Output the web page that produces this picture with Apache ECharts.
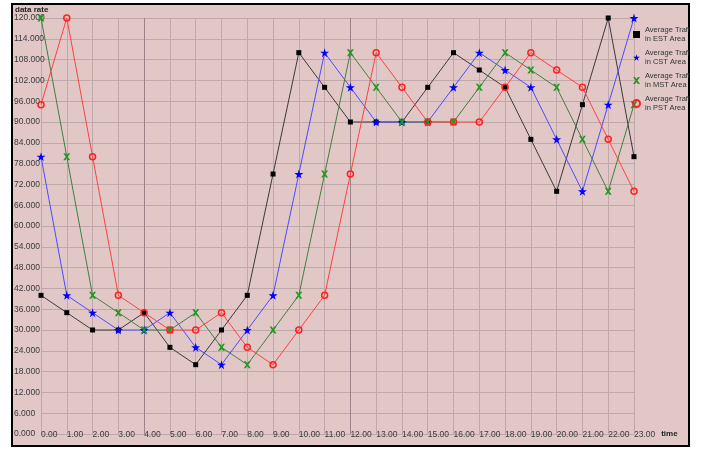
<!DOCTYPE html>
<html>
<head>
<meta charset="utf-8">
<script src="https://cdn.jsdelivr.net/npm/echarts@6/dist/echarts.min.js"></script>
<style>
html,body{margin:0;padding:0;background:#fff;}
#c{width:701px;height:450px;}
</style>
</head>
<body>
<div id="c"></div>
<script>
var hours = ['0.00','1.00','2.00','3.00','4.00','5.00','6.00','7.00','8.00','9.00','10.00','11.00','12.00','13.00','14.00','15.00','16.00','17.00','18.00','19.00','20.00','21.00','22.00','23.00'];
var estValues = [40,35,30,30,35,25,20,30,40,75,110,100,90,90,90,100,110,105,100,85,70,95,120,80];
var cstValues = [80,40,35,30,30,35,25,20,30,40,75,110,100,90,90,90,100,110,105,100,85,70,95,120];
var mstValues = [120,80,40,35,30,30,35,25,20,30,40,75,110,100,90,90,90,100,110,105,100,85,70,95];
var pstValues = [95,120,80,40,35,30,30,35,25,20,30,40,75,110,100,90,90,90,100,110,105,100,85,70];
var seriesNames = ['Average Traffic\nin EST Area','Average Traffic\nin CST Area','Average Traffic\nin MST Area','Average Traffic\nin PST Area'];

var starPath = 'path://M50,0L61,35L98,35L68,57L79,91L50,70L21,91L32,57L2,35L39,35Z';
var xPath = 'path://M0,0L30,0L50,30L70,0L100,0L65,50L100,100L70,100L50,70L30,100L0,100L35,50Z';

var gridColor = '#bfa7aa';
var xSplitColors = hours.map(function(h, i){ return (i === 4 || i === 12) ? '#9a8488' : gridColor; });

var chart = echarts.init(document.getElementById('c'));
function mk(name, data, lineColor, itemStyle, symbol, size) {
  return {
    name: name, type: 'line', data: data,
    symbol: symbol, symbolSize: size,
    lineStyle: {color: lineColor, width: 1},
    itemStyle: itemStyle,
    animation: false
  };
}
chart.setOption({
  backgroundColor: '#ffffff',
  animation: false,
  graphic: [{
    type: 'rect', z: -100, silent: true,
    shape: {x: 12, y: 4, width: 677, height: 442},
    style: {fill: '#e2c7c7', stroke: '#000', lineWidth: 2}
  }],
  title: {
    text: 'data rate', left: 15, top: 6, padding: 0,
    textStyle: {fontFamily: 'Liberation Sans', fontSize: 8, fontWeight: 'bold', color: '#222'}
  },
  legend: {
    orient: 'vertical', left: 632, top: 21, padding: 0,
    itemWidth: 7, itemHeight: 7, itemGap: -4,
    data: [
      {name: seriesNames[0], icon: 'rect'},
      {name: seriesNames[1], icon: starPath},
      {name: seriesNames[2], icon: xPath},
      {name: seriesNames[3], icon: 'circle'}
    ],
    textStyle: {fontFamily: 'Liberation Sans', fontSize: 7.5, lineHeight: 9, color: '#333',
      width: 47, overflow: 'truncate', ellipsis: '', padding: [9, 0, 0, 0]}
  },
  grid: {left: 41, right: 67, top: 18, bottom: 16},
  xAxis: {
    type: 'category', data: hours, boundaryGap: false,
    name: 'time', nameLocation: 'end', nameGap: 27,
    nameTextStyle: {fontFamily: 'Liberation Sans', fontSize: 8, fontWeight: 'bold', color: '#222', verticalAlign: 'middle', padding: [6, 0, 0, 0]},
    axisLine: {show: false}, axisTick: {show: false},
    axisLabel: {interval: 0, align: 'left', margin: 1, verticalAlign: 'middle', padding: [6, 0, 0, 0],
      fontFamily: 'Liberation Sans', fontSize: 8.5, color: '#3a3a3a'},
    splitLine: {show: true, interval: 0, lineStyle: {color: xSplitColors, width: 1}}
  },
  yAxis: {
    type: 'value', min: 0, max: 120, interval: 6,
    axisLine: {show: false}, axisTick: {show: false},
    axisLabel: {align: 'left', margin: 27, verticalAlign: 'middle', padding: [6, 0, 0, 0],
      fontFamily: 'Liberation Sans', fontSize: 8.5, color: '#3a3a3a',
      formatter: function(v){ return v.toFixed(3); }},
    splitLine: {show: true, lineStyle: {color: gridColor, width: 1}}
  },
  series: [
    mk(seriesNames[0], estValues, '#3a3a3a', {color: '#000000'}, 'rect', 5),
    mk(seriesNames[1], cstValues, '#4b4bff', {color: '#0000ff'}, starPath, 9),
    mk(seriesNames[2], mstValues, '#3f7f3f', {color: '#1f9a1f'}, xPath, 7),
    mk(seriesNames[3], pstValues, '#ff4040', {color: 'rgba(255,32,32,0)', borderColor: '#ff2020', borderWidth: 1.5}, 'circle', 6)
  ]
});
</script>
</body>
</html>
